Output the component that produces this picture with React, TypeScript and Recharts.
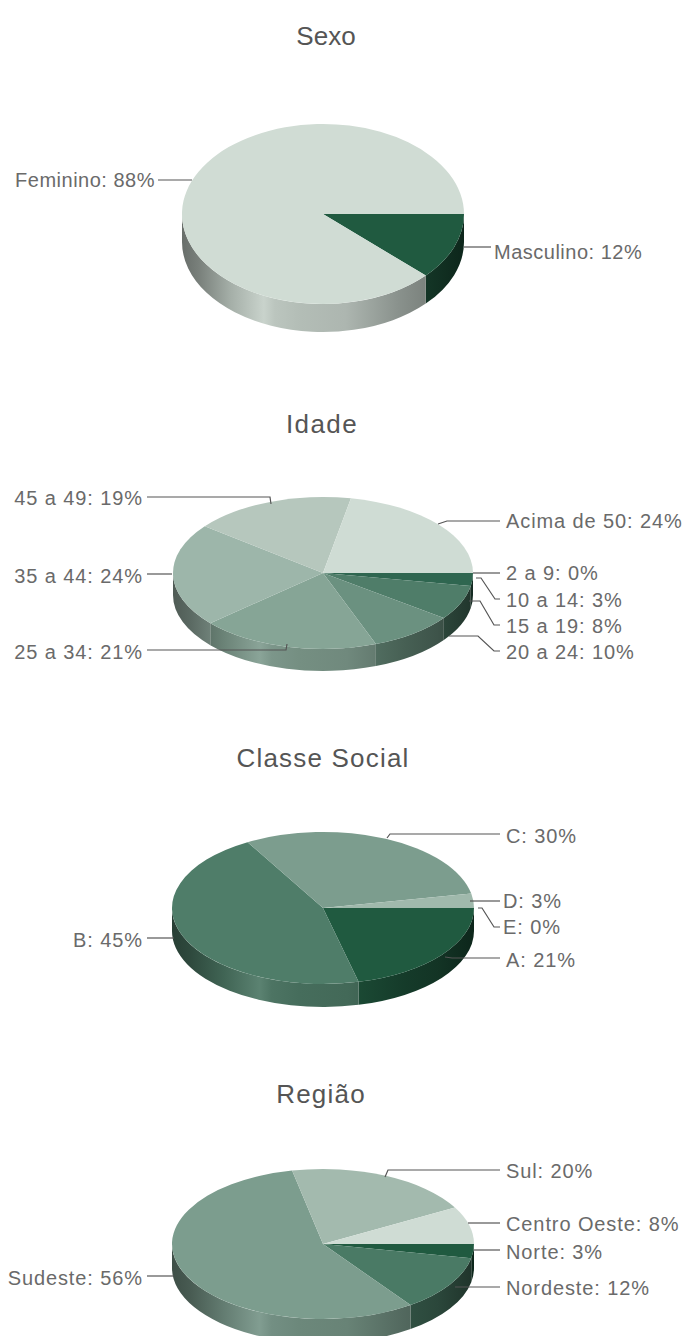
import { PieChart, Pie } from "recharts";

// values per panel, in drawing order (clockwise from 3 o'clock)
const sexoNames = ["Masculino", "Feminino"];
const sexoValues = [12, 88];
const sexoColors = ["#205a40", "#d0dcd4"];

const idadeNames = ["2 a 9", "10 a 14", "15 a 19", "20 a 24", "25 a 34", "35 a 44", "45 a 49", "Acima de 50"];
const idadeValues = [0, 3, 8, 10, 21, 24, 19, 24];
const idadeColors = ["#205a40", "#2f6650", "#4f7d69", "#6b9180", "#86a596", "#9db6aa", "#b6c7bd", "#cfdcd4"];

const classeNames = ["A", "B", "C", "D", "E"];
const classeValues = [21, 45, 30, 3, 0];
const classeColors = ["#205a40", "#4f7d69", "#7c9d8e", "#a0b9ac", "#cfdcd4"];

const regiaoNames = ["Norte", "Nordeste", "Sudeste", "Sul", "Centro Oeste"];
const regiaoValues = [3, 12, 56, 20, 8];
const regiaoColors = ["#205a40", "#4a7a65", "#7c9d8e", "#a3baae", "#cfdcd4"];

type Callout = { x: number; y: number; anchor: "start" | "end"; line: number[][] };

// label placement and leader lines, same order as the names above
const sexoCallouts: Callout[] = [
  { x: 494, y: 259, anchor: "start", line: [[464, 247], [491, 247]] },
  { x: 155, y: 187, anchor: "end", line: [[158, 180], [192, 180]] },
];
const idadeCallouts: Callout[] = [
  { x: 506, y: 580, anchor: "start", line: [[473, 573], [500, 573]] },
  { x: 506, y: 607, anchor: "start", line: [[476, 578], [481, 578], [495, 599], [500, 599]] },
  { x: 506, y: 633, anchor: "start", line: [[469, 601], [480, 601], [494, 625], [500, 625]] },
  { x: 506, y: 659, anchor: "start", line: [[449, 636], [478, 636], [494, 651], [500, 651]] },
  { x: 143, y: 659, anchor: "end", line: [[147, 650], [286, 650], [287, 644]] },
  { x: 143, y: 583, anchor: "end", line: [[147, 574], [172, 574]] },
  { x: 143, y: 505, anchor: "end", line: [[147, 497], [270, 497], [271, 504]] },
  { x: 506, y: 528, anchor: "start", line: [[500, 521], [447, 521], [438, 524]] },
];
const classeCallouts: Callout[] = [
  { x: 506, y: 967, anchor: "start", line: [[445, 957], [452, 958], [500, 958]] },
  { x: 143, y: 947, anchor: "end", line: [[147, 938], [174, 938]] },
  { x: 506, y: 843, anchor: "start", line: [[500, 834], [390, 834], [387, 838]] },
  { x: 503, y: 908, anchor: "start", line: [[470, 901], [500, 901]] },
  { x: 503, y: 934, anchor: "start", line: [[478, 908], [482, 908], [494, 927], [500, 927]] },
];
const regiaoCallouts: Callout[] = [
  { x: 506, y: 1259, anchor: "start", line: [[474, 1250], [500, 1250]] },
  { x: 506, y: 1295, anchor: "start", line: [[455, 1287], [500, 1287]] },
  { x: 143, y: 1285, anchor: "end", line: [[147, 1276], [174, 1276]] },
  { x: 506, y: 1178, anchor: "start", line: [[500, 1170], [388, 1170], [385, 1177]] },
  { x: 506, y: 1231, anchor: "start", line: [[500, 1223], [468, 1223]] },
];

const panels = [
  { key: "sexo", title: "Sexo", titleX: 326, titleY: 45, titleSpacing: 0, labelSpacing: 0.5, cx: 323, cy: 214, rx: 141, ry: 90, depth: 28, names: sexoNames, values: sexoValues, colors: sexoColors, callouts: sexoCallouts },
  { key: "idade", title: "Idade", titleX: 322, titleY: 433, titleSpacing: 1.4, labelSpacing: 0.9, cx: 323, cy: 573, rx: 150, ry: 76, depth: 22, names: idadeNames, values: idadeValues, colors: idadeColors, callouts: idadeCallouts },
  { key: "classe", title: "Classe Social", titleX: 323, titleY: 767, titleSpacing: 1.2, labelSpacing: 0.9, cx: 323, cy: 908, rx: 151, ry: 76, depth: 23, names: classeNames, values: classeValues, colors: classeColors, callouts: classeCallouts },
  { key: "regiao", title: "Região", titleX: 321, titleY: 1103, titleSpacing: 1.2, labelSpacing: 0.9, cx: 323, cy: 1244, rx: 151, ry: 75, depth: 24, names: regiaoNames, values: regiaoValues, colors: regiaoColors, callouts: regiaoCallouts },
];

const shade = (hex: string, k: number, lift: number) => {
  const n = parseInt(hex.slice(1), 16);
  const c = [(n >> 16) & 255, (n >> 8) & 255, n & 255].map((v) => Math.min(255, Math.round(v * k + lift)));
  return `rgb(${c[0]},${c[1]},${c[2]})`;
};

// side wall lighting, left to right across the pie: offset, brightness, added light
const wallStops = [
  [0, 0.5, 0],
  [0.06, 0.58, 0],
  [0.17, 0.78, 2],
  [0.29, 0.85, 24],
  [0.33, 0.85, 10],
  [0.42, 0.84, 4],
  [0.58, 0.82, 2],
  [0.77, 0.66, 0],
  [0.88, 0.58, 0],
  [1, 0.42, 0],
];

// Recharts hands over a round sector; this squashes it to an ellipse and adds the wall
const tiltedSector = (key: string, ry: number, depth: number) => (props: any) => {
  const { cx, cy, outerRadius: rx, startAngle, endAngle, fill } = props;
  const t0 = -startAngle;
  const t1 = -endAngle;
  if (t1 - t0 <= 0) return <g />;
  const pt = (t: number, dy = 0) => {
    const a = (t * Math.PI) / 180;
    return `${cx + rx * Math.cos(a)} ${cy + ry * Math.sin(a) + dy}`;
  };
  const large = t1 - t0 > 180 ? 1 : 0;
  const top = `M${cx} ${cy}L${pt(t0)}A${rx} ${ry} 0 ${large} 1 ${pt(t1)}Z`;
  const w0 = Math.max(t0, 0);
  const w1 = Math.min(t1, 180);
  const gradId = `wall-${key}-${fill.slice(1)}`;
  return (
    <g>
      <defs>
        <linearGradient id={gradId} gradientUnits="userSpaceOnUse" x1={cx - rx} x2={cx + rx} y1={0} y2={0}>
          {wallStops.map(([o, k, lift]) => (
            <stop key={o} offset={o} stopColor={shade(fill, k, lift)} />
          ))}
        </linearGradient>
      </defs>
      {w1 > w0 && (
        <path
          d={`M${pt(w0)}A${rx} ${ry} 0 0 1 ${pt(w1)}L${pt(w1, depth)}A${rx} ${ry} 0 0 0 ${pt(w0, depth)}Z`}
          fill={`url(#${gradId})`}
        />
      )}
      <path d={top} fill={fill} />
    </g>
  );
};

const calloutLabel = (callouts: Callout[], spacing: number) => (props: any) => {
  const c = callouts[props.index];
  return (
    <g key={props.index}>
      <polyline points={c.line.map((p) => p.join(",")).join(" ")} fill="none" stroke="#555" strokeWidth={1.2} />
      <text x={c.x} y={c.y} textAnchor={c.anchor} fontFamily="Liberation Sans" fontSize={20} letterSpacing={spacing} fill="#6a6a6a">
        {`${props.name}: ${props.value}%`}
      </text>
    </g>
  );
};

export default function App() {
  return (
    <div style={{ position: "absolute", left: 0, top: 0, width: 690, height: 1336, background: "#fff", overflow: "hidden" }}>
      <PieChart width={690} height={1336} margin={{ top: 0, right: 0, bottom: 0, left: 0 }}>
        {panels.map((p) => (
          <text key={p.key} x={p.titleX} y={p.titleY} textAnchor="middle" fontFamily="Liberation Sans" fontSize={26} letterSpacing={p.titleSpacing} fill="#555">
            {p.title}
          </text>
        ))}
        {panels.map((p) => (
          <Pie
            key={p.key}
            data={p.names.map((name, i) => ({ name, value: p.values[i], fill: p.colors[i] }))}
            dataKey="value"
            nameKey="name"
            cx={p.cx}
            cy={p.cy}
            outerRadius={p.rx}
            startAngle={0}
            endAngle={-360}
            paddingAngle={0}
            stroke="none"
            isAnimationActive={false}
            shape={tiltedSector(p.key, p.ry, p.depth)}
            label={calloutLabel(p.callouts, p.labelSpacing)}
            labelLine={false}
          />
        ))}
      </PieChart>
    </div>
  );
}
